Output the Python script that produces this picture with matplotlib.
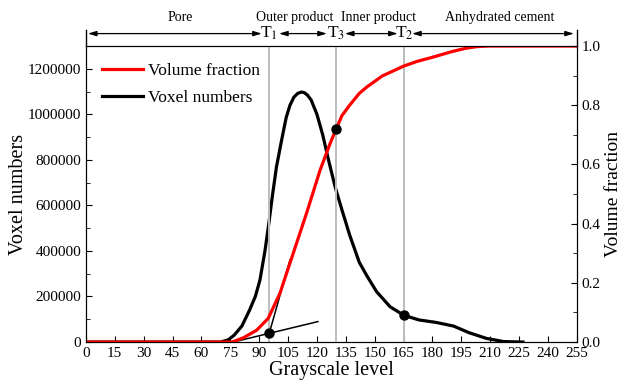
#Voxel histogram and volume fraction vs grayscale level, with threshold markers
import matplotlib.pyplot as plt

plt.rcParams['font.family'] = ['Liberation Serif', 'DejaVu Serif']
plt.rcParams['mathtext.fontset'] = 'stix'

#Voxel numbers (black curve)
gray_vox = [0, 60, 70, 74, 77, 81, 85, 88, 90.4, 93, 95, 97, 99, 101.5, 104, 106, 108, 110,
            112, 113.5, 115, 117, 120, 123, 126, 129.5, 133, 137, 142, 146, 151, 158, 165,
            173, 182, 191, 199, 208, 217, 227]
voxels = [0, 0, 0, 10e3, 30e3, 70e3, 140e3, 200e3, 272e3, 400e3, 520e3, 650e3, 770e3,
          880e3, 985e3, 1040e3, 1075e3, 1092e3, 1098e3, 1095e3, 1085e3, 1063e3, 1000e3,
          910e3, 800e3, 680e3, 580e3, 470e3, 350e3, 290e3, 221e3, 155e3, 118e3, 97e3,
          86e3, 70e3, 41e3, 16e3, 2e3, 0]

#Volume fraction (red curve)
gray_vf = [0, 76, 82, 88.7, 94.7, 100.8, 107.7, 114.6, 121.6, 126.8, 130, 133, 137, 142,
           146, 154, 165, 172, 180, 190, 197, 203, 209, 255]
vol_frac = [0, 0, 0.015, 0.04, 0.08, 0.165, 0.30, 0.435, 0.58, 0.67, 0.72, 0.765, 0.80,
            0.84, 0.862, 0.899, 0.932, 0.948, 0.962, 0.981, 0.992, 0.998, 1.0, 1.0]

#Tangent lines used to find T1
tan_low_x = [76.5, 120.5]
tan_low_y = [0.0, 0.069]
tan_steep_x = [95.2, 106]
tan_steep_y = [0.029, 0.277]

#Thresholds
T1, T3, T2 = 95.2, 130, 165.2
dot_t1 = 0.029
dot_t3 = 0.72
dot_t2 = 118e3

fig = plt.figure(figsize=(6.27, 3.9), dpi=100)
ax = fig.add_axes([0.137, 0.123, 0.783, 0.759])
ax2 = ax.twinx()

ax.plot(gray_vox, voxels, color='black', lw=2.3, zorder=2, label='Voxel numbers')
for t in [T1, T3, T2]:
    ax.axvline(t, color='#bdbdbd', lw=1.4, zorder=3)
ax.plot([T2], [dot_t2], 'o', color='black', ms=6.5, zorder=5)

ax2.plot(tan_low_x, tan_low_y, color='black', lw=1.1, zorder=1)
ax2.plot(tan_steep_x, tan_steep_y, color='black', lw=1.1, zorder=1)
ax2.plot(gray_vf, vol_frac, color='red', lw=2.3, zorder=2, label='Volume fraction')
ax2.plot([T1, T3], [dot_t1, dot_t3], 'o', color='black', ms=6.5, zorder=5)

ax.set_xlim(0, 255)
ax.set_ylim(0, 1.3e6)
ax2.set_ylim(0, 1.0)
ax.set_xticks(range(0, 256, 15))
ax.set_yticks(range(0, 1200001, 200000))
ax.set_yticks(range(100000, 1300000, 200000), minor=True)
ax.set_yticklabels([str(v) for v in range(0, 1200001, 200000)])
ax2.set_yticks([0, 0.2, 0.4, 0.6, 0.8, 1.0])
ax2.set_yticks([0.1, 0.3, 0.5, 0.7, 0.9], minor=True)
ax2.set_yticklabels(['0.0', '0.2', '0.4', '0.6', '0.8', '1.0'])

ax.tick_params(axis='both', which='both', direction='in', labelsize=11)
ax.tick_params(which='major', length=4)
ax.tick_params(which='minor', length=3)
ax.tick_params(axis='x', top=False)
ax2.tick_params(axis='y', which='both', direction='in', labelsize=11)
ax2.tick_params(which='major', length=4)
ax2.tick_params(which='minor', length=3)

ax.set_xlabel('Grayscale level', fontsize=14.5, labelpad=1)
ax.set_ylabel('Voxel numbers', fontsize=14.5, labelpad=0)
ax2.set_ylabel('Volume fraction', fontsize=14, labelpad=3)

#Legend
h1, l1 = ax2.get_legend_handles_labels()
h2, l2 = ax.get_legend_handles_labels()
ax.legend(h1 + h2, l1 + l2, loc='upper left', bbox_to_anchor=(0.0, 0.995), frameon=False,
          fontsize=12.5, handlelength=2.4, handletextpad=0.25, labelspacing=0.6)

#Region annotation above the plot
trans = ax.get_xaxis_transform()
arrow_y = 1.042
aprops = dict(arrowstyle='<|-|>,head_length=0.5,head_width=0.15', color='black', lw=0.9,
              shrinkA=0, shrinkB=0)
segs = [(1, 91.4), (100.3, 125.2), (134.5, 162), (169.4, 253.5)]
for a, b in segs:
    ax.annotate('', xy=(b, arrow_y), xytext=(a, arrow_y), xycoords=trans,
                textcoords=trans, arrowprops=aprops, annotation_clip=False)
for x in [0, 255]:
    ax.plot([x, x], [1.0, 1.054], color='black', lw=1.0, transform=trans, clip_on=False)
for t, lab in [(T1, r'T$_{1}$'), (T3, r'T$_{3}$'), (T2, r'T$_{2}$')]:
    ax.text(t, arrow_y, lab, transform=trans, ha='center', va='center', fontsize=12.5)
regions = [(49, 'Pore'), (108.3, 'Outer product'), (151.8, 'Inner product'),
           (215, 'Anhydrated cement')]
for x, lab in regions:
    ax.text(x, 1.097, lab, transform=trans, ha='center', va='center', fontsize=10)

plt.savefig('out.png', dpi=100)
